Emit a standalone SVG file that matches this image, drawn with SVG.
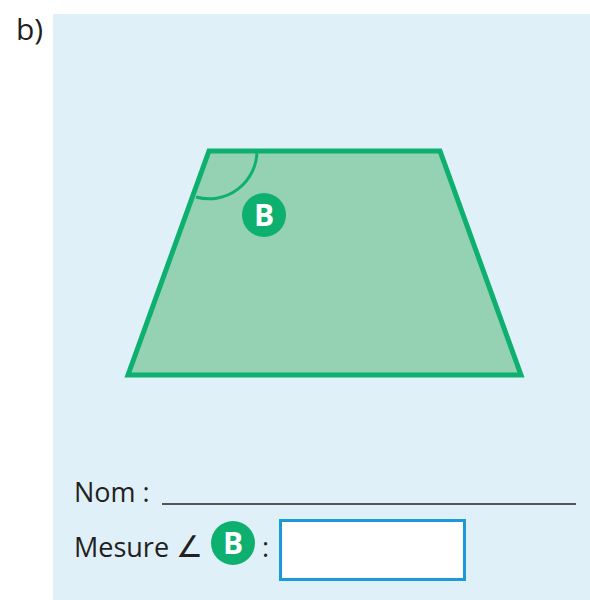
<svg xmlns="http://www.w3.org/2000/svg" width="590" height="600" viewBox="0 0 590 600">
<style>
.t{font-family:"Open Sans","Noto Sans",sans-serif;fill:#231f20;font-size:27px}
.b{font-family:"Open Sans","Noto Sans",sans-serif;font-weight:bold;fill:#fff;font-size:30px;text-anchor:middle}
.badge{fill:#0db06f}
</style>
<rect width="590" height="600" fill="#fff"/>
<text class="t" x="16" y="40" style="font-size:30px">b)</text>
<rect x="53" y="14" width="537" height="586" fill="#e0f0f8"/>
<g id="trapeze">
<polygon points="209,151 440,151 521,375 128,375" fill="#95d1b3" stroke="#0db06f" stroke-width="5" stroke-linejoin="miter"/>
<path d="M257,151 A48,48 0 0 1 196,197" fill="none" stroke="#0db06f" stroke-width="3"/>
</g>
<g id="labelB">
<circle class="badge" cx="264" cy="215" r="22"/>
<text class="b" x="264" y="226">B</text>
</g>
<g id="nom">
<text class="t" x="74" y="502">Nom :</text>
<line x1="162" y1="504" x2="576" y2="504" stroke="#231f20" stroke-width="1.5"/>
</g>
<g id="mesure">
<text class="t" x="74" y="557">Mesure <tspan font-size="30">∠</tspan></text>
<circle class="badge" cx="233" cy="543" r="22"/>
<text class="b" x="233" y="554">B</text>
<text class="t" x="262" y="557">:</text>
<rect x="280.5" y="520.5" width="184" height="59" fill="#fff" stroke="#1a9ad6" stroke-width="3"/>
</g>
</svg>
